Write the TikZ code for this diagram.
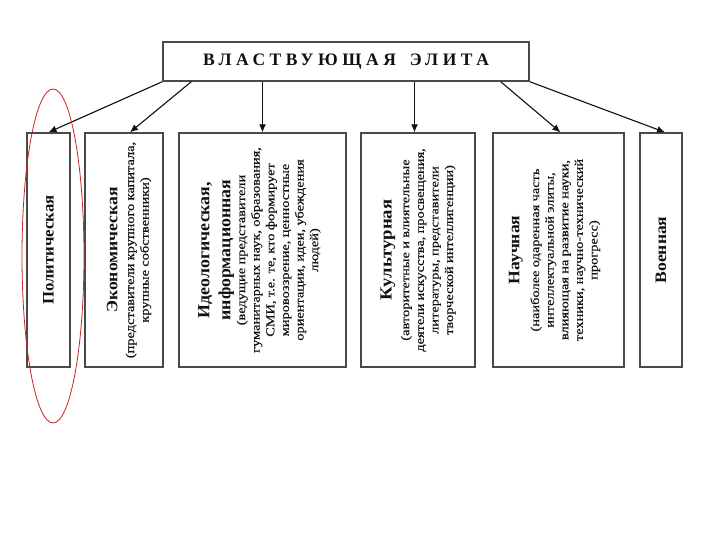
\documentclass[tikz,border=0pt]{standalone}
\usepackage{fontspec}
\setmainfont{Liberation Serif}
\newfontfamily\descA[FakeStretch=1.2,FakeBold=0.3]{Liberation Serif}
\newfontfamily\headfont[LetterSpace=26]{Liberation Serif}
\usetikzlibrary{arrows.meta,calc,shapes.geometric}
\definecolor{edgecol}{HTML}{4A4A4A}
\definecolor{inkcol}{HTML}{111111}
\definecolor{redmark}{HTML}{C82424}
\tikzset{
  box/.style={draw=edgecol, line width=1.4pt, fill=white, inner sep=0pt},
  link/.style={draw=inkcol, line width=1.1pt, -{Latex[length=8pt,width=7pt]}},
  vtext/.style={rotate=90, text width=230pt, align=center, inner sep=0pt, text=inkcol},
}
\newcommand{\dscA}{\descA\fontsize{12}{14.6}\selectfont}
\newcommand{\ttlA}{\bfseries\fontsize{16}{19}\selectfont}
\newcommand{\ttlB}{\bfseries\fontsize{17}{21}\selectfont}
\begin{document}
\begin{tikzpicture}[x=1pt,y=-1pt]
\useasboundingbox[fill=white] (0,0) rectangle (720,540);
% top box
\node[box, minimum width=366pt, minimum height=39pt, text=inkcol] (top) at (346,61.5)
  {\headfont\bfseries\fontsize{17.5}{20}\selectfont ВЛАСТВУЮЩАЯ\hspace{5pt} ЭЛИТА};
% boxes
\node[box, minimum width=43pt, minimum height=234pt] (pol) at (48.5,250) {};
\node[box, minimum width=78pt, minimum height=234pt] (eco) at (124,250) {};
\node[box, minimum width=167pt, minimum height=234pt] (ideo) at (262.5,250) {};
\node[box, minimum width=114pt, minimum height=234pt] (kul) at (418,250) {};
\node[box, minimum width=131pt, minimum height=234pt] (nau) at (558.5,250) {};
\node[box, minimum width=42pt, minimum height=234pt] (voe) at (661,250) {};
% texts
\node[vtext] (poltxt) at (pol.center) {\ttlA\scalebox{1.05}[1]{Политическая}\par};
\node[vtext] (ecotxt) at ($(eco.center)+(5,0)$) {{\ttlA\scalebox{1.1}[1]{Экономическая}\par}\vspace{2pt}
  {\dscA (представители крупного капитала,\\крупные собственники)\par}};
\node[vtext] (ideotxt) at ($(ideo.center)+(-3,0)$) {{\ttlB\scalebox{1.05}[1]{Идеологическая,}\\\scalebox{1.05}[1]{информационная}\par}
  {\dscA (ведущие представители\\гуманитарных наук, образования,\\СМИ, т.е. те, кто формирует\\мировоззрение, ценностные\\ориентации, идеи, убеждения\\людей)\par}};
\node[vtext] (kultxt) at (kul.center) {{\ttlB\scalebox{1.1}[1]{Культурная}\par}\vspace{3pt}
  {\dscA (авторитетные и влиятельные\\деятели искусства, просвещения,\\литературы, представители\\творческой интеллигенции)\par}};
\node[vtext] (nautxt) at ($(nau.center)+(-4,0)$) {{\ttlA\scalebox{1.1}[1]{Научная}\par}\vspace{5pt}
  {\dscA (наиболее одаренная часть\\интеллектуальной элиты,\\влияющая на развитие науки,\\техники, научно-технический\\прогресс)\par}};
\node[vtext] (voetxt) at (voe.center) {\ttlA\scalebox{1.1}[1]{Военная}\par};
% connectors
\draw[link] (top.south west) -- (pol.north);
\draw[link] ($(top.south west)!0.079!(top.south east)$) -- ($(eco.north)+(6,0)$);
\draw[link] (ideo.north |- top.south) -- (ideo.north);
\draw[link] ($(kul.north |- top.south)+(-3.5,0)$) -- ($(kul.north)+(-3.5,0)$);
\draw[link] ($(top.south west)!0.921!(top.south east)$) -- ($(nau.north)+(2,0)$);
\draw[link] (top.south east) -- ($(voe.north)+(4,0)$);
% highlight
\node[draw=redmark, line width=0.8pt, ellipse, inner sep=0pt, minimum width=62pt, minimum height=334pt] (hl) at (53,256) {};
\end{tikzpicture}
\end{document}
